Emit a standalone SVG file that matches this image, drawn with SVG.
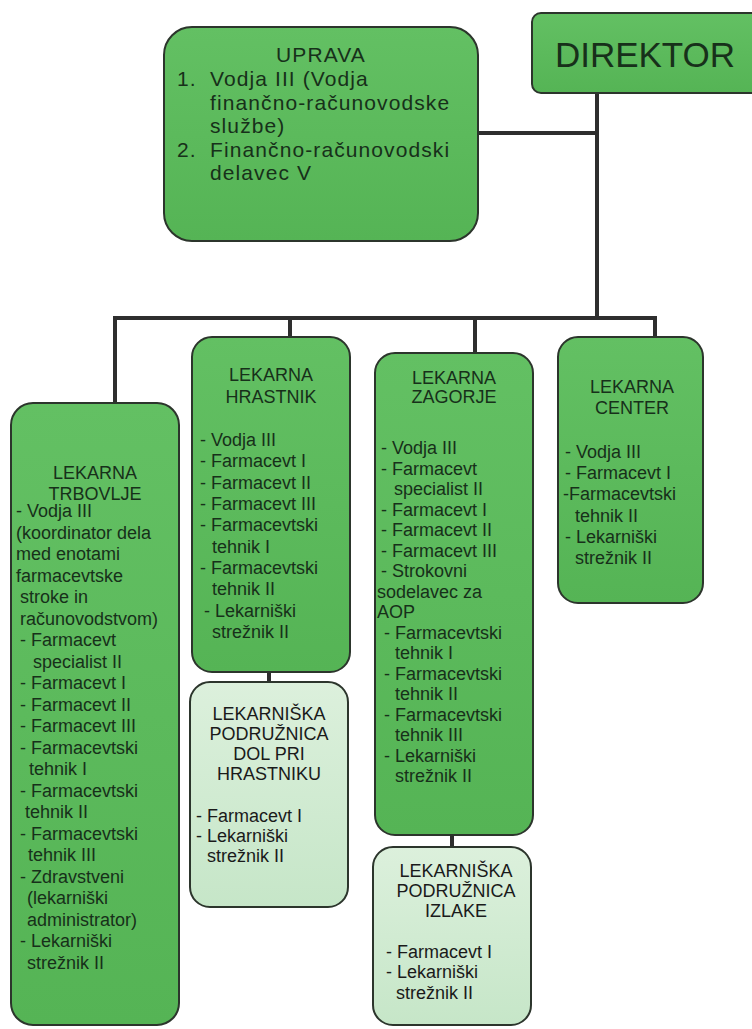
<svg xmlns="http://www.w3.org/2000/svg" width="752" height="1029" viewBox="0 0 752 1029">
<defs>
<linearGradient id="g" x1="0" y1="0" x2="0" y2="1"><stop offset="0" stop-color="#63c063"/><stop offset="1" stop-color="#55b455"/></linearGradient>
<linearGradient id="lg" x1="0" y1="0" x2="0" y2="1"><stop offset="0" stop-color="#dcf0dc"/><stop offset="1" stop-color="#c6e6c8"/></linearGradient>
<style>
.box{fill:url(#g);stroke:#2c352c;stroke-width:2}
.lbox{fill:url(#lg);stroke:#2c352c;stroke-width:2}
text{font-family:"Liberation Sans",Arial,sans-serif;font-size:18px;fill:#17301a}
.c{text-anchor:middle}
.dk{fill:#1a1a1a}
.big{font-size:21px;letter-spacing:1.1px}
.con{fill:none;stroke:#2e2e2e;stroke-width:4}
</style>
</defs>
<rect width="752" height="1029" fill="#ffffff"/>
<g id="connectors">
<path class="con" d="M478,133 H597"/>
<path class="con" d="M597,93 V318"/>
<path class="con" d="M113,318 H657"/>
<path class="con" d="M115,318 V403"/>
<path class="con" d="M290,318 V337"/>
<path class="con" d="M475,318 V353"/>
<path class="con" d="M655,318 V337"/>
<path class="con" d="M269,672 V682"/>
<path class="con" d="M452,835 V847"/>
</g>
<g id="direktor">
<rect class="box" x="532" y="13" width="230" height="80" rx="9"/>
<text x="645" y="67" class="c" style="font-size:35px">DIREKTOR</text>
</g>
<g id="uprava">
<rect class="box" x="164" y="27" width="314" height="214" rx="28"/>
<text class="big c" x="321" y="62">UPRAVA</text>
<text class="big" x="177" y="86">1.</text>
<text class="big" x="210" y="86">Vodja III (Vodja</text>
<text class="big" x="210" y="110">finančno-računovodske</text>
<text class="big" x="210" y="133">službe)</text>
<text class="big" x="177" y="157">2.</text>
<text class="big" x="210" y="157">Finančno-računovodski</text>
<text class="big" x="210" y="180">delavec V</text>
</g>
<g id="trbovlje">
<rect class="box" x="11" y="403" width="168" height="622" rx="22"/>
<text class="c" x="95" y="479">LEKARNA</text>
<text class="c" x="95" y="500">TRBOVLJE</text>
<text x="16" y="517">- Vodja III</text>
<text x="16" y="538.5">(koordinator dela</text>
<text x="16" y="560">med enotami</text>
<text x="16" y="581.5">farmacevtske</text>
<text x="20" y="603">stroke in</text>
<text x="20" y="624.5">računovodstvom)</text>
<text x="20" y="646">- Farmacevt</text>
<text x="33" y="667.5">specialist II</text>
<text x="20" y="689">- Farmacevt I</text>
<text x="20" y="710.5">- Farmacevt II</text>
<text x="20" y="732">- Farmacevt III</text>
<text x="20" y="753.5">- Farmacevtski</text>
<text x="29" y="775">tehnik I</text>
<text x="20" y="796.5">- Farmacevtski</text>
<text x="25" y="818">tehnik II</text>
<text x="20" y="839.5">- Farmacevtski</text>
<text x="28" y="861">tehnik III</text>
<text x="20" y="882.5">- Zdravstveni</text>
<text x="27" y="904">(lekarniški</text>
<text x="27" y="925.5">administrator)</text>
<text x="20" y="947">- Lekarniški</text>
<text x="27" y="968.5">strežnik II</text>
</g>
<g id="hrastnik">
<rect class="box" x="192" y="337" width="158" height="335" rx="20"/>
<text class="c" x="271" y="381">LEKARNA</text>
<text class="c" x="271" y="403">HRASTNIK</text>
<text x="200" y="446">- Vodja III</text>
<text x="200" y="467">- Farmacevt I</text>
<text x="200" y="489">- Farmacevt II</text>
<text x="200" y="510">- Farmacevt III</text>
<text x="200" y="531">-  Farmacevtski</text>
<text x="212" y="553">tehnik I</text>
<text x="200" y="574">- Farmacevtski</text>
<text x="212" y="595">tehnik II</text>
<text x="204" y="617">-  Lekarniški</text>
<text x="212" y="638">strežnik II</text>
</g>
<g id="dol-pri-hrastniku">
<rect class="lbox" x="190" y="682" width="158" height="225" rx="20"/>
<text class="c dk" x="269" y="720">LEKARNIŠKA</text>
<text class="c dk" x="269" y="740">PODRUŽNICA</text>
<text class="c dk" x="269" y="760">DOL PRI</text>
<text class="c dk" x="269" y="780">HRASTNIKU</text>
<text class="dk" x="196" y="822">- Farmacevt I</text>
<text class="dk" x="196" y="842">- Lekarniški</text>
<text class="dk" x="207" y="862">strežnik II</text>
</g>
<g id="zagorje">
<rect class="box" x="375" y="353" width="158" height="482" rx="20"/>
<text class="c" x="454" y="384">LEKARNA</text>
<text class="c" x="454" y="403">ZAGORJE</text>
<text x="381" y="454">- Vodja III</text>
<text x="381" y="474.5">- Farmacevt</text>
<text x="394" y="495">specialist II</text>
<text x="381" y="515.5">- Farmacevt I</text>
<text x="381" y="536">- Farmacevt II</text>
<text x="381" y="556.5">- Farmacevt III</text>
<text x="381" y="577">-  Strokovni</text>
<text x="377" y="597.5">sodelavec za</text>
<text x="377" y="618">AOP</text>
<text x="384" y="638.5">- Farmacevtski</text>
<text x="395" y="659">tehnik I</text>
<text x="384" y="679.5">- Farmacevtski</text>
<text x="395" y="700">tehnik II</text>
<text x="384" y="720.5">- Farmacevtski</text>
<text x="395" y="741">tehnik III</text>
<text x="384" y="761.5">- Lekarniški</text>
<text x="395" y="782">strežnik II</text>
</g>
<g id="izlake">
<rect class="lbox" x="373" y="847" width="158" height="178" rx="20"/>
<text class="c dk" x="456" y="877">LEKARNIŠKA</text>
<text class="c dk" x="456" y="897">PODRUŽNICA</text>
<text class="c dk" x="456" y="917">IZLAKE</text>
<text class="dk" x="386" y="958">- Farmacevt I</text>
<text class="dk" x="386" y="978">- Lekarniški</text>
<text class="dk" x="396" y="999">strežnik II</text>
</g>
<g id="center">
<rect class="box" x="558" y="337" width="145" height="266" rx="20"/>
<text class="c" x="632" y="393">LEKARNA</text>
<text class="c" x="632" y="414">CENTER</text>
<text x="565" y="458">- Vodja III</text>
<text x="565" y="479">- Farmacevt I</text>
<text x="563" y="500">-Farmacevtski</text>
<text x="575" y="522">tehnik II</text>
<text x="565" y="543">- Lekarniški</text>
<text x="575" y="564">strežnik II</text>
</g>
</svg>
